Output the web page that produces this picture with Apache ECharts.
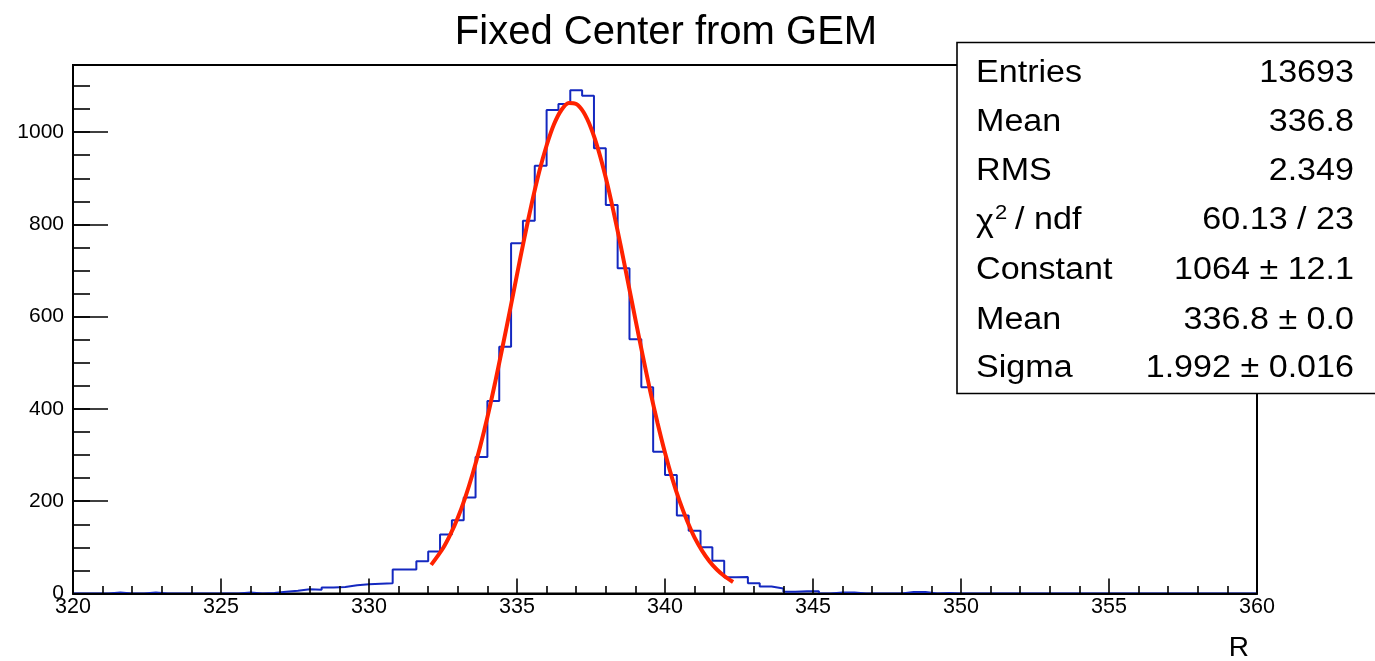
<!DOCTYPE html>
<html lang="en">
<head>
	<meta charset="UTF-8">
	<title>Fixed Center from GEM</title>
	<style type="text/css">
	body,html{
		width: 100%;
		height: 100%;
		margin: 0;
		padding: 0;
		background: #fff;
	}
	#chart{
		width: 1375px;
		height: 661px;
	}
	</style>
</head>
<body>
<div id="chart"></div>
<script type="text/javascript" src="https://cdn.jsdelivr.net/npm/echarts@6/dist/echarts.min.js"></script>
<script type="text/javascript">
	// histogram: 100 bins of 0.4 from 320 to 360
	var xMin = 320, xMax = 360, binWidth = 0.4;
	var counts = [
		0, 0, 0, 2, 0, 0, 2, 0, 0, 0,
		0, 0, 0, 0, 2, 0, 1, 4, 6, 9,
		8, 13, 14, 18, 20, 21, 22, 52, 52, 70,
		91, 128, 159, 208, 296, 417, 535, 759, 808, 927,
		1048, 1061, 1091, 1079, 965, 842, 705, 551, 447, 307,
		257, 169, 136, 100, 71, 35, 36, 22, 15, 11,
		4, 5, 5, 0, 2, 2, 0, 0, 0, 0,
		3, 3, 0, 1, 0, 0, 0, 0, 0, 0,
		0, 0, 0, 0, 0, 0, 0, 0, 0, 0,
		0, 0, 0, 0, 0, 0, 0, 0, 0, 0
	];

	// gaus fit curve
	var fitX = [332.1, 332.5, 332.75, 333, 333.25, 333.5, 333.75, 334, 334.25, 334.5, 334.75,
		335, 335.25, 335.5, 335.75, 336, 336.25, 336.5, 336.75, 337, 337.25, 337.5, 337.75,
		338, 338.25, 338.5, 338.75, 339, 339.25, 339.5, 339.75, 340, 340.25, 340.5, 340.75,
		341, 341.25, 341.5, 341.75, 342, 342.3];
	var fitY = [62, 98, 128, 164, 208, 259, 317, 382, 454, 531, 610,
		691, 771, 846, 914, 971, 1017, 1048, 1063, 1061, 1043, 1009, 961,
		901, 831, 755, 675, 594, 515, 439, 369, 305, 248, 199, 157,
		121, 93, 70, 52, 38, 25];

	var xTicks = [320, 325, 330, 335, 340, 345, 350, 355, 360];
	var yTicks = [0, 200, 400, 600, 800, 1000];

	var statLabels = ['Entries', 'Mean', 'RMS', '', 'Constant', 'Mean', 'Sigma'];
	var statValues = ['13693', '336.8', '2.349', '60.13 / 23', '1064 \u00b1 12.1', '336.8 \u00b1 0.0', '1.992 \u00b1 0.016'];

	var FONT = '"Liberation Sans", Arial, Helvetica, sans-serif';

	var histData = [];
	for (var i = 0; i < counts.length; i++) {
		histData.push([xMin + i * binWidth, counts[i]]);
	}
	histData.push([xMax, counts[counts.length - 1]]);

	var fitData = [];
	for (var j = 0; j < fitX.length; j++) {
		fitData.push([fitX[j], fitY[j]]);
	}

	/*stats box*/
	var rowY = [73, 122, 171, 220, 270, 320, 368];
	var graphics = [{
		type: 'rect',
		z: 100,
		shape: {x: 957, y: 42.5, width: 440, height: 351},
		style: {fill: '#fff', stroke: '#000', lineWidth: 1.6}
	}];
	for (var k = 0; k < rowY.length; k++) {
		if (statLabels[k]) {
			graphics.push({
				type: 'text', z: 101, x: 976, y: rowY[k], scaleX: 1.1,
				style: {text: statLabels[k], font: '31px ' + FONT, fill: '#000',
					textAlign: 'left', textVerticalAlign: 'middle'}
			});
		}
		graphics.push({
			type: 'text', z: 101, x: 1354, y: rowY[k], scaleX: 1.1,
			style: {text: statValues[k], font: '31px ' + FONT, fill: '#000',
				textAlign: 'right', textVerticalAlign: 'middle'}
		});
	}
	// chi2 / ndf label
	graphics.push({
		type: 'text', z: 101, x: 976, y: 222, scaleX: 1.1,
		style: {text: '\u03c7', font: '31px ' + FONT, fill: '#000', textAlign: 'left', textVerticalAlign: 'middle'}
	});
	graphics.push({
		type: 'text', z: 101, x: 995, y: 213, scaleX: 1.1,
		style: {text: '2', font: '20px ' + FONT, fill: '#000', textAlign: 'left', textVerticalAlign: 'middle'}
	});
	graphics.push({
		type: 'text', z: 101, x: 1015, y: 220, scaleX: 1.1,
		style: {text: '/ ndf', font: '31px ' + FONT, fill: '#000', textAlign: 'left', textVerticalAlign: 'middle'}
	});
	// title and axis title
	graphics.push({
		type: 'text', z: 101, x: 666, y: 33,
		style: {text: 'Fixed Center from GEM', font: '40px ' + FONT, fill: '#000',
			textAlign: 'center', textVerticalAlign: 'middle'}
	});
	graphics.push({
		type: 'text', z: 101, x: 1249, y: 648,
		style: {text: 'R', font: '28px ' + FONT, fill: '#000',
			textAlign: 'right', textVerticalAlign: 'middle'}
	});

	var chart = echarts.init(document.getElementById('chart'), null, {renderer: 'canvas'});

	var option = {
		animation: false,
		backgroundColor: '#fff',
		grid: {
			left: 73, right: 118, top: 65, bottom: 67.5,
			show: true, borderColor: '#000', borderWidth: 2,
			outerBoundsMode: 'none'
		},
		xAxis: {
			type: 'value',
			min: xMin, max: xMax, interval: 5,
			z: 5,
			axisLine: {show: true, onZero: false, lineStyle: {color: '#000', width: 2}},
			axisTick: {show: true, inside: true, length: 15, lineStyle: {color: '#000', width: 1.6}},
			minorTick: {show: true, splitNumber: 5, length: 7.5, lineStyle: {color: '#000', width: 1.6}},
			splitLine: {show: false},
			axisLabel: {
				color: '#000', fontSize: 21.5, fontFamily: FONT, margin: 3,
				showMinLabel: true, showMaxLabel: true,
				formatter: function (v) { return xTicks.indexOf(v) >= 0 ? String(v) : ''; }
			}
		},
		yAxis: [{
			type: 'value',
			min: 0, max: 1145.5, interval: 200,
			z: 5,
			axisLine: {show: true, onZero: false, lineStyle: {color: '#000', width: 2}},
			axisTick: {show: true, inside: true, length: 35, lineStyle: {color: '#000', width: 1.6}},
			splitLine: {show: false},
			axisLabel: {
				color: '#000', fontSize: 21, fontFamily: FONT, margin: 9,
				showMaxLabel: false,
				formatter: function (v) { return yTicks.indexOf(v) >= 0 ? String(v) : ''; }
			}
		}, {
			// minor ticks every 50
			type: 'value',
			min: 0, max: 1145.5, interval: 50,
			position: 'left',
			z: 5,
			axisLine: {show: false},
			axisTick: {show: true, inside: true, length: 17, lineStyle: {color: '#000', width: 1.6}},
			splitLine: {show: false},
			axisLabel: {show: false}
		}],
		graphic: graphics,
		series: [{
			name: 'hist',
			type: 'line',
			step: 'end',
			data: histData,
			showSymbol: false,
			z: 2,
			lineStyle: {color: '#1428c0', width: 2}
		}, {
			name: 'gaus',
			type: 'line',
			smooth: 0.3,
			data: fitData,
			showSymbol: false,
			z: 3,
			lineStyle: {color: '#ff2200', width: 4}
		}]
	};

	chart.setOption(option, true);
	window.addEventListener("resize", function () {
		chart.resize();
	});
</script>
</body>
</html>
